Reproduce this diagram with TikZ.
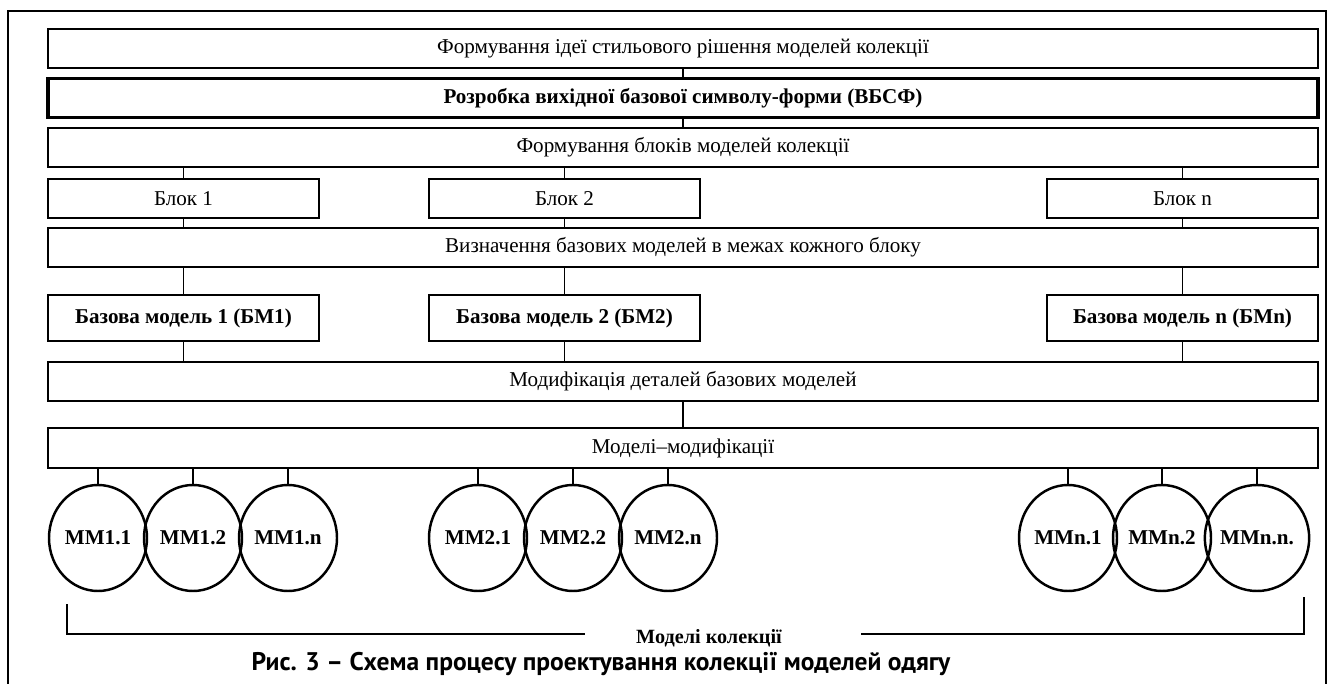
\documentclass[tikz,border=0pt]{standalone}
\usepackage{fontspec}
\setmainfont{Liberation Serif}
\newfontfamily\capfont{PT Sans}
\usetikzlibrary{positioning,shapes.geometric}

\tikzset{
  boxtext/.style={font=\fontsize{12}{14}\selectfont},
  widebox/.style={draw, line width=1.4pt, minimum width=254mm, minimum height=7.8mm, inner sep=0pt, boxtext},
  blockbox/.style={draw, line width=1.4pt, minimum width=54.2mm, minimum height=7.8mm, inner sep=0pt, boxtext},
  basebox/.style={blockbox, minimum height=9.2mm, font=\fontsize{12}{14}\selectfont\bfseries},
  mmcirc/.style={ellipse, draw, line width=1.4pt, minimum width=19.6mm, minimum height=21.2mm, inner sep=0pt, font=\fontsize{12}{14}\selectfont\bfseries},
  link/.style={line width=1.1pt},
}

\begin{document}
\begin{tikzpicture}[x=0.2mm,y=-0.2mm]
\useasboundingbox (0,0) rectangle (1331,684);
% outer frame (open at the bottom)
\draw[line width=1.1pt] (8,684) -- (8,11) -- (1326,11) -- (1326,684);

% top chain
\node[widebox] (idea) at (683,48.5) {Формування ідеї стильового рішення моделей колекції};
\node[widebox, line width=1.9pt, font=\fontsize{12}{14}\selectfont\bfseries] (vbsf) at (683,98) {Розробка вихідної базової символу-форми (ВБСФ)};
\node[widebox] (blocks) at (683,147.5) {Формування блоків моделей колекції};
\draw[link] (idea) -- (vbsf);
\draw[link] (vbsf) -- (blocks);

% blocks
\node[blockbox] (blk1) at (183.5,198.5) {Блок 1};
\node[blockbox] (blk2) at (564.5,198.5) {Блок 2};
\node[blockbox] (blkn) at (1182.5,198.5) {Блок n};
\node[widebox] (define) at (683,247.5) {Визначення базових моделей в межах кожного блоку};

% base models
\node[basebox] (bm1) at (183.5,318) {Базова модель 1 (БМ1)};
\node[basebox] (bm2) at (564.5,318) {Базова модель 2 (БМ2)};
\node[basebox] (bmn) at (1182.5,318) {Базова модель n (БМn)};
\node[widebox] (modif) at (683,381.5) {Модифікація деталей базових моделей};

\foreach \b in {1,2,n} {
  \draw[link] (blk\b.north) -- (blk\b.north |- blocks.south);
  \draw[link] (blk\b.south) -- (blk\b.south |- define.north);
  \draw[link] (bm\b.north) -- (bm\b.north |- define.south);
  \draw[link] (bm\b.south) -- (bm\b.south |- modif.north);
}

% model modifications
\node[widebox, minimum height=8mm] (mods) at (683,448) {Моделі–модифікації};
\draw[link] (modif) -- (mods);

\foreach \name/\xx/\lbl in {m11/98/MM1.1, m12/193/MM1.2, m1n/288/MM1.n,
                            m21/478/MM2.1, m22/573/MM2.2, m2n/668/MM2.n,
                            mn1/1068/MMn.1, mn2/1162/MMn.2, mnn/1257/MMn.n.} {
  \node[mmcirc] (\name) at (\xx,538) {\lbl};
  \draw[link] (\name.north) -- (\name.north |- mods.south);
}

% collection bracket
\node[font=\fontsize{11.5}{14}\selectfont\bfseries] (coll) at (709,638) {Моделі колекції};
\coordinate (brL) at (67,604);
\coordinate (brLend) at (585,634);
\coordinate (brR) at (1304,597);
\coordinate (brRend) at (861,634);
\draw[link] (brL) |- (brLend);
\draw[link] (brR) |- (brRend);

\node[font=\capfont\bfseries\fontsize{14.5}{16}\selectfont] (caption) at (601,664) {Рис. 3 – Схема процесу проектування колекції моделей одягу};
\end{tikzpicture}
\end{document}
